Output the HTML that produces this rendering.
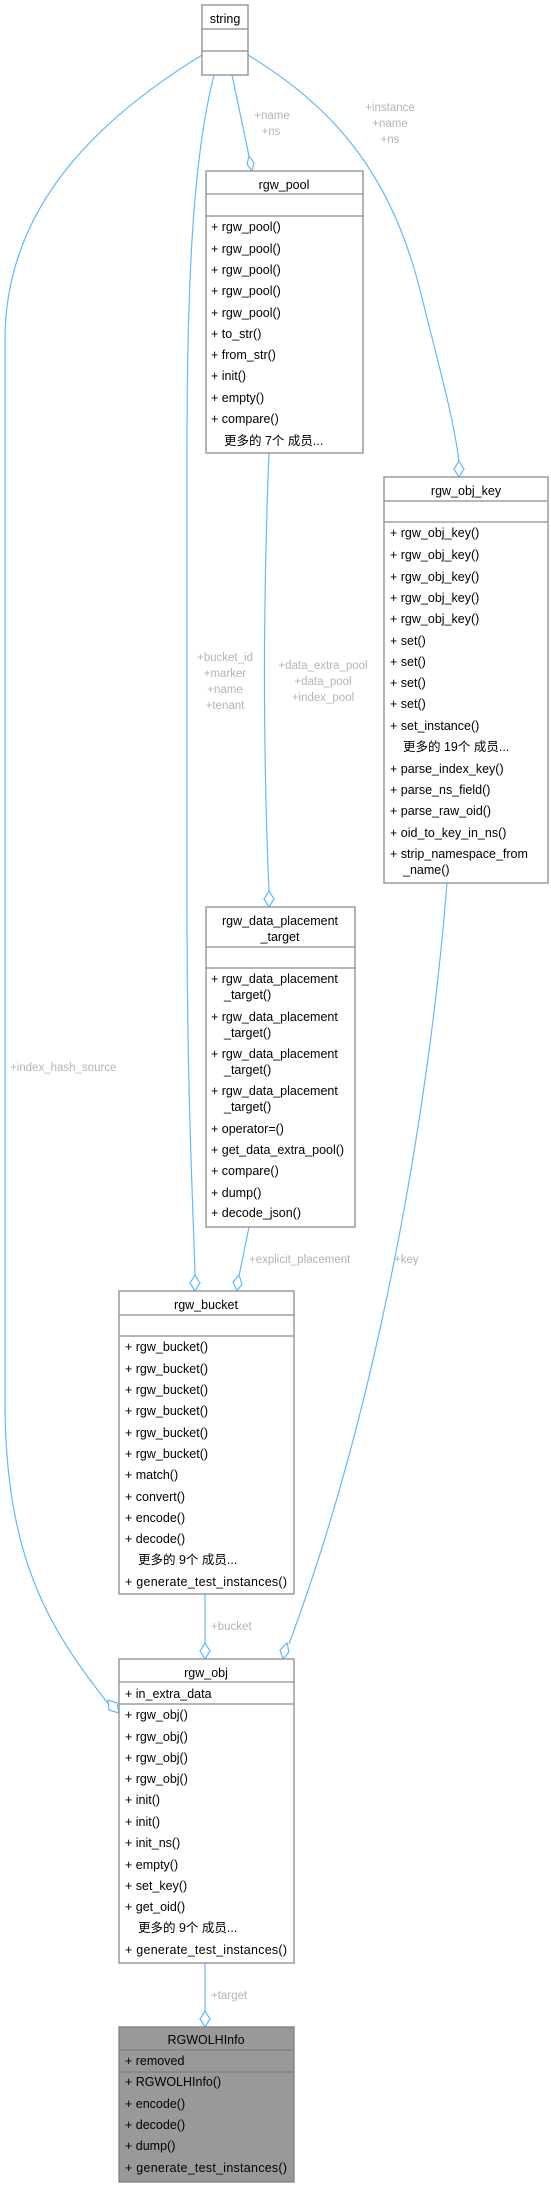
<!DOCTYPE html>
<html><head><meta charset="utf-8">
<style>
html,body{margin:0;padding:0;background:#fff;}
svg{display:block;}
text{font-family:"Liberation Sans","Noto Sans CJK SC",sans-serif;font-size:12.5px;fill:#000;}
.l{fill:#b4b4b4;font-size:11.5px;}
.c{text-anchor:middle;}
.b{fill:#fff;stroke:#8c8c8c;stroke-width:1.3;}
.s{stroke:#8c8c8c;stroke-width:1.3;}
.e{fill:none;stroke:#63b8ff;stroke-width:1.2;}
.d{fill:#fff;stroke:#63b8ff;stroke-width:1.2;}
</style></head>
<body>
<svg width="551" height="2187" viewBox="0 0 551 2187" xmlns="http://www.w3.org/2000/svg">
<!-- edges -->
<path class="e" d="M202,55 C80,130 5,220 5,340 L5,1400 C5,1560 50,1630 110,1706"/>
<path class="e" d="M214,75 C195,150 187,260 187,450 L187,900 C187,1100 193,1200 195,1275"/>
<path class="e" d="M232,75 L249,156"/>
<path class="e" d="M248,55 C330,105 390,170 420,290 C440,370 454,420 459,462"/>
<path class="e" d="M269,453 C263,600 263,750 269,892"/>
<path class="e" d="M249,1227 L239,1276"/>
<path class="e" d="M447,883 C430,1100 380,1400 289,1644"/>
<path class="e" d="M205,1594 L205,1643"/>
<path class="e" d="M205,1963 L205,2011"/>
<!-- diamonds -->
<polygon class="d" points="252,171 247,164 249,156 254,163"/>
<polygon class="d" points="459,477 454,469 459,461 464,469"/>
<polygon class="d" points="269,907 264,899 269,891 274,899"/>
<polygon class="d" points="195,1291 190,1283 195,1275 200,1283"/>
<polygon class="d" points="237,1291 233,1282 239,1275 242,1284"/>
<polygon class="d" points="205,1659 200,1651 205,1643 210,1651"/>
<polygon class="d" points="283,1659 280,1650 287,1643 289,1652"/>
<polygon class="d" points="205,2027 200,2019 205,2011 210,2019"/>
<polygon class="d" points="119,1713 109,1710 108,1700 117,1703"/>
<!-- edge labels -->
<text class="l" x="10" y="1071">+index_hash_source</text>
<text class="l c" x="225" y="661">+bucket_id</text>
<text class="l c" x="225" y="677">+marker</text>
<text class="l c" x="225" y="693">+name</text>
<text class="l c" x="225" y="709">+tenant</text>
<text class="l c" x="272" y="119">+name</text>
<text class="l c" x="271" y="135">+ns</text>
<text class="l c" x="390" y="111">+instance</text>
<text class="l c" x="390" y="127">+name</text>
<text class="l c" x="390" y="143">+ns</text>
<text class="l c" x="323" y="669">+data_extra_pool</text>
<text class="l c" x="323" y="685">+data_pool</text>
<text class="l c" x="323" y="701">+index_pool</text>
<text class="l" x="249" y="1263">+explicit_placement</text>
<text class="l" x="394" y="1263">+key</text>
<text class="l" x="211" y="1630">+bucket</text>
<text class="l" x="211" y="1999">+target</text>

<!-- string -->
<rect class="b" x="202" y="5" width="46" height="70"/>
<line class="s" x1="202" y1="29" x2="248" y2="29"/>
<line class="s" x1="202" y1="51" x2="248" y2="51"/>
<text class="c" x="225" y="23">string</text>

<!-- rgw_pool -->
<rect class="b" x="206" y="171" width="157" height="282"/>
<line class="s" x1="206" y1="194" x2="363" y2="194"/>
<line class="s" x1="206" y1="216" x2="363" y2="216"/>
<text class="c" x="284" y="189">rgw_pool</text>
<text x="211" y="231">+ rgw_pool()</text>
<text x="211" y="253">+ rgw_pool()</text>
<text x="211" y="274">+ rgw_pool()</text>
<text x="211" y="295">+ rgw_pool()</text>
<text x="211" y="317">+ rgw_pool()</text>
<text x="211" y="338">+ to_str()</text>
<text x="211" y="359">+ from_str()</text>
<text x="211" y="380">+ init()</text>
<text x="211" y="402">+ empty()</text>
<text x="211" y="423">+ compare()</text>
<text x="224" y="445">更多的 7个 成员...</text>

<!-- rgw_obj_key -->
<rect class="b" x="384" y="477" width="164" height="406"/>
<line class="s" x1="384" y1="501" x2="548" y2="501"/>
<line class="s" x1="384" y1="522" x2="548" y2="522"/>
<text class="c" x="466" y="495">rgw_obj_key</text>
<text x="390" y="537">+ rgw_obj_key()</text>
<text x="390" y="559">+ rgw_obj_key()</text>
<text x="390" y="581">+ rgw_obj_key()</text>
<text x="390" y="602">+ rgw_obj_key()</text>
<text x="390" y="623">+ rgw_obj_key()</text>
<text x="390" y="645">+ set()</text>
<text x="390" y="666">+ set()</text>
<text x="390" y="687">+ set()</text>
<text x="390" y="708">+ set()</text>
<text x="390" y="730">+ set_instance()</text>
<text x="403" y="751">更多的 19个 成员...</text>
<text x="390" y="773">+ parse_index_key()</text>
<text x="390" y="794">+ parse_ns_field()</text>
<text x="390" y="815">+ parse_raw_oid()</text>
<text x="390" y="837">+ oid_to_key_in_ns()</text>
<text x="390" y="858">+ strip_namespace_from</text>
<text x="403" y="874">_name()</text>

<!-- rgw_data_placement_target -->
<rect class="b" x="206" y="907" width="149" height="320"/>
<line class="s" x1="206" y1="947" x2="355" y2="947"/>
<line class="s" x1="206" y1="968" x2="355" y2="968"/>
<text class="c" x="280" y="925">rgw_data_placement</text>
<text class="c" x="280" y="941">_target</text>
<text x="211" y="983">+ rgw_data_placement</text>
<text x="224" y="999">_target()</text>
<text x="211" y="1021">+ rgw_data_placement</text>
<text x="224" y="1037">_target()</text>
<text x="211" y="1058">+ rgw_data_placement</text>
<text x="224" y="1074">_target()</text>
<text x="211" y="1095">+ rgw_data_placement</text>
<text x="224" y="1111">_target()</text>
<text x="211" y="1133">+ operator=()</text>
<text x="211" y="1154">+ get_data_extra_pool()</text>
<text x="211" y="1175">+ compare()</text>
<text x="211" y="1197">+ dump()</text>
<text x="211" y="1217">+ decode_json()</text>

<!-- rgw_bucket -->
<rect class="b" x="119" y="1291" width="175" height="303"/>
<line class="s" x1="119" y1="1315" x2="294" y2="1315"/>
<line class="s" x1="119" y1="1336" x2="294" y2="1336"/>
<text class="c" x="206" y="1309">rgw_bucket</text>
<text x="125" y="1351">+ rgw_bucket()</text>
<text x="125" y="1373">+ rgw_bucket()</text>
<text x="125" y="1394">+ rgw_bucket()</text>
<text x="125" y="1415">+ rgw_bucket()</text>
<text x="125" y="1437">+ rgw_bucket()</text>
<text x="125" y="1458">+ rgw_bucket()</text>
<text x="125" y="1479">+ match()</text>
<text x="125" y="1501">+ convert()</text>
<text x="125" y="1522">+ encode()</text>
<text x="125" y="1543">+ decode()</text>
<text x="138" y="1564">更多的 9个 成员...</text>
<text x="125" y="1586" textLength="162">+ generate_test_instances()</text>

<!-- rgw_obj -->
<rect class="b" x="119" y="1659" width="175" height="304"/>
<line class="s" x1="119" y1="1682" x2="294" y2="1682"/>
<line class="s" x1="119" y1="1704" x2="294" y2="1704"/>
<text class="c" x="206" y="1677">rgw_obj</text>
<text x="125" y="1698">+ in_extra_data</text>
<text x="125" y="1719">+ rgw_obj()</text>
<text x="125" y="1741">+ rgw_obj()</text>
<text x="125" y="1762">+ rgw_obj()</text>
<text x="125" y="1783">+ rgw_obj()</text>
<text x="125" y="1804">+ init()</text>
<text x="125" y="1826">+ init()</text>
<text x="125" y="1847">+ init_ns()</text>
<text x="125" y="1869">+ empty()</text>
<text x="125" y="1890">+ set_key()</text>
<text x="125" y="1911">+ get_oid()</text>
<text x="138" y="1932">更多的 9个 成员...</text>
<text x="125" y="1954" textLength="162">+ generate_test_instances()</text>

<!-- RGWOLHInfo -->
<rect x="119" y="2027" width="175" height="155" fill="#999" stroke="#808080" stroke-width="1.3"/>
<line x1="119" y1="2050" x2="294" y2="2050" stroke="#808080" stroke-width="1.3"/>
<line x1="119" y1="2072" x2="294" y2="2072" stroke="#808080" stroke-width="1.3"/>
<text class="c" x="206" y="2044">RGWOLHInfo</text>
<text x="125" y="2065">+ removed</text>
<text x="125" y="2086">+ RGWOLHInfo()</text>
<text x="125" y="2108">+ encode()</text>
<text x="125" y="2129">+ decode()</text>
<text x="125" y="2150">+ dump()</text>
<text x="125" y="2172" textLength="162">+ generate_test_instances()</text>
</svg>
</body></html>
